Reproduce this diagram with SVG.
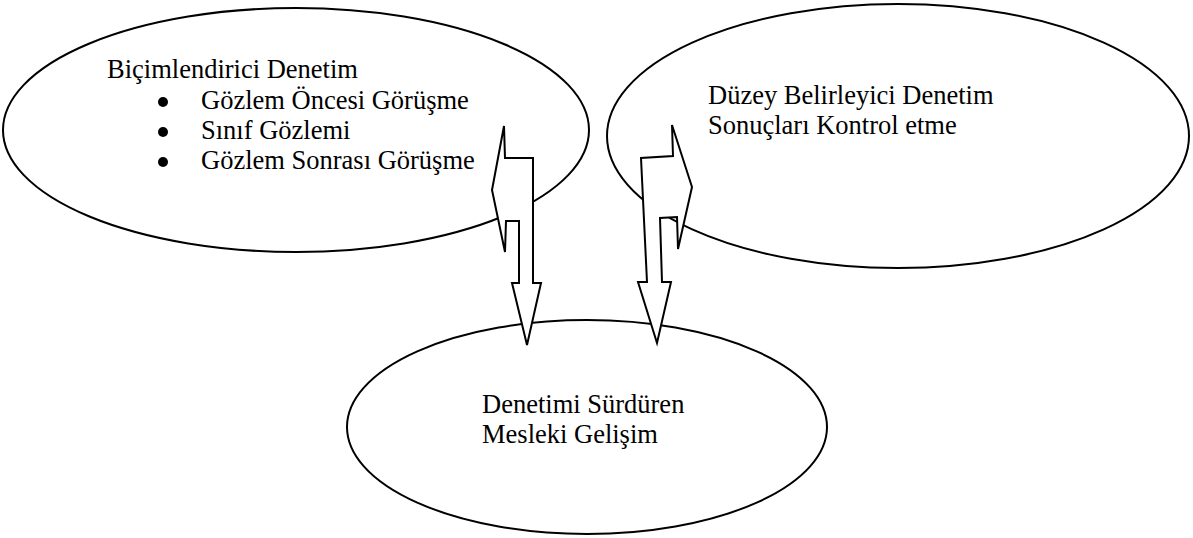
<svg xmlns="http://www.w3.org/2000/svg" width="1193" height="538" viewBox="0 0 1193 538">
<style>
.node{fill:#fff;stroke:#000;stroke-width:2}
.arrow{fill:#fff;stroke:#000;stroke-width:2;stroke-linejoin:miter}
.t{font-family:"Liberation Serif","Times New Roman",serif;font-size:26.5px;fill:#000}
</style>
<rect width="1193" height="538" fill="#fff"/>
<g id="node-bicimlendirici">
<ellipse class="node" cx="296" cy="130" rx="293" ry="122"/>
<text class="t" x="107" y="78">Biçimlendirici Denetim</text>
<circle cx="163" cy="102" r="5"/>
<text class="t" x="201" y="109">Gözlem Öncesi Görüşme</text>
<circle cx="163" cy="132" r="5"/>
<text class="t" x="201" y="139">Sınıf Gözlemi</text>
<circle cx="163" cy="162" r="5"/>
<text class="t" x="201" y="169">Gözlem Sonrası Görüşme</text>
</g>
<g id="node-duzey">
<ellipse class="node" cx="898" cy="136" rx="291" ry="132"/>
<text class="t" x="708" y="104">Düzey Belirleyici Denetim</text>
<text class="t" x="708" y="134">Sonuçları Kontrol etme</text>
</g>
<g id="node-surduren">
<ellipse class="node" cx="587" cy="427" rx="240" ry="107"/>
<text class="t" x="482" y="413">Denetimi Sürdüren</text>
<text class="t" x="482" y="443">Mesleki Gelişim</text>
</g>
<g id="connectors">
<polygon class="arrow" points="504,126 505,158 533,158 533,283 541,283 527,345 512,283 519,283 519,221 506,221 505,252 492,190"/>
<polygon class="arrow" points="672,125 692,187 678,249 677,217 660,218 662,282 671,282 657,343 638,282 647,282 641,158 673,156"/>
</g>
</svg>
